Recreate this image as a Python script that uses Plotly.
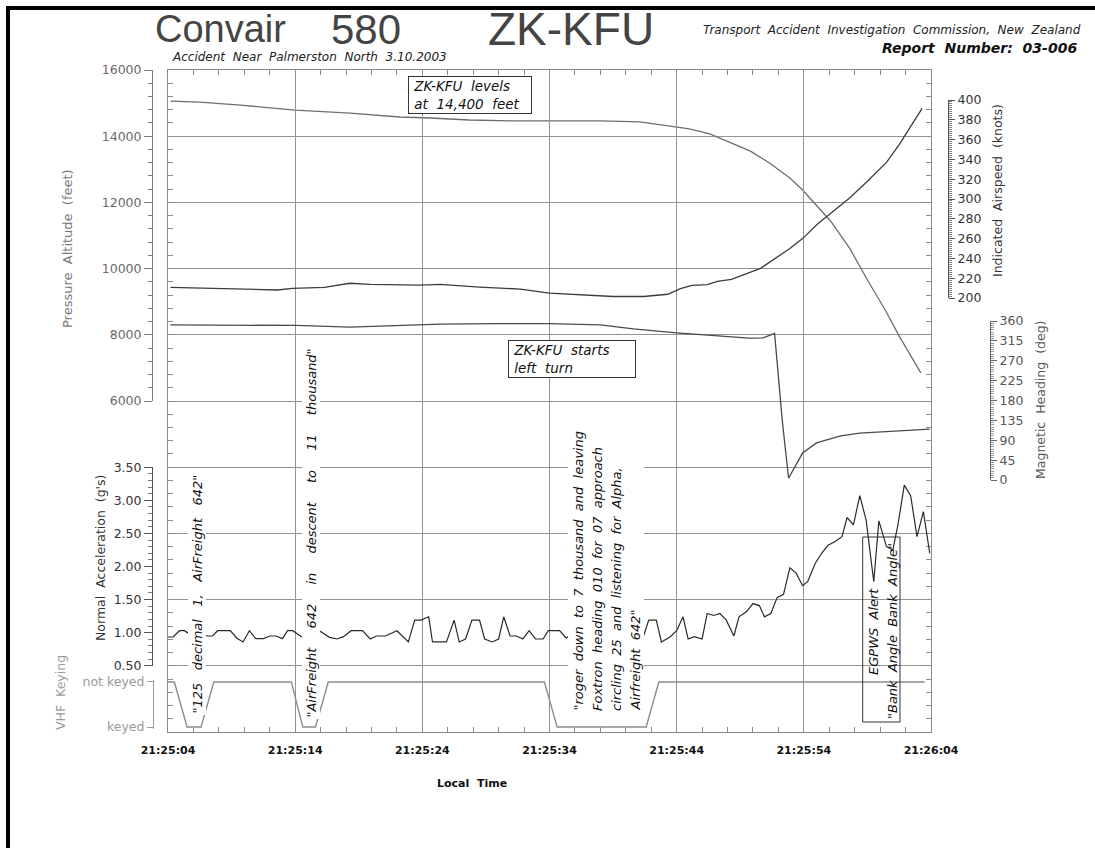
import plotly.graph_objects as go

W, H = 1095, 848

# ---------------- data (time = seconds after 21:25:04) ----------------
time_ticks = [0, 10, 20, 30, 40, 50, 60]
time_labels = ["21:25:04", "21:25:14", "21:25:24", "21:25:34", "21:25:44", "21:25:54", "21:26:04"]

alt_t = [0.2, 2.5, 5.7, 10.0, 14.3, 18.2, 20.6, 23.7, 26.9, 30.8, 34.0, 37.1, 39.5, 41.0,
         42.6, 44.2, 45.8, 47.3, 48.9, 49.9, 51.1, 52.1, 53.6, 55.0, 56.4, 57.5, 59.2]
alt_ft = [15060, 15030, 14940, 14790, 14700, 14580, 14550, 14490, 14460, 14460, 14460, 14430,
          14310, 14220, 14070, 13820, 13550, 13190, 12740, 12375, 11860, 11440, 10620, 9656,
          8750, 7960, 6850]

ias_t = [0.2, 4.9, 7.0, 8.6, 9.8, 12.3, 14.3, 15.9, 19.8, 21.4, 24.5, 27.7, 30.0, 32.4, 34.0,
         35.0, 37.4, 39.3, 40.3, 41.2, 42.4, 43.2, 44.3, 46.6, 48.9, 49.9, 51.1, 53.6, 55.0,
         56.5, 57.5, 59.3]
ias_kt = [210.8, 209.1, 208.1, 208.1, 209.8, 210.8, 214.9, 213.8, 213.1, 213.8, 211.0, 209.0,
          205.0, 203.0, 202.0, 201.5, 201.5, 203.8, 209.5, 212.8, 213.5, 216.8, 218.8, 230.0,
          250.0, 260.0, 275.0, 301.0, 318.0, 337.0, 355.0, 391.6]

hdg_t = [0.2, 10.1, 14.3, 19.8, 21.4, 26.0, 30.0, 34.0, 36.6, 40.0, 42.6, 45.7, 46.8, 47.7,
         48.3, 48.8, 49.9, 51.0, 51.8, 52.9, 54.4, 56.0, 57.5, 59.9]
hdg_deg = [351, 350, 346, 351, 353, 354, 354, 351, 342, 333, 328, 321, 322, 332, 136, 4,
           61, 84, 91, 100, 106, 109, 111, 115]

acc_t = [0.0, 0.4, 0.9, 1.3, 1.9, 2.5, 3.1, 3.5, 3.9, 4.9, 5.4, 5.9, 6.4, 6.9, 7.5, 8.0, 8.5,
         9.0, 9.4, 9.8, 10.5, 11.0, 11.5, 12.0, 12.7, 13.3, 13.8, 14.4, 15.3, 15.9, 16.4, 17.1,
         18.0, 18.9, 19.4, 19.9, 20.5, 20.8, 21.9, 22.5, 22.9, 23.4, 23.9, 24.5, 24.9, 25.5,
         26.0, 26.4, 26.9, 27.4, 27.9, 28.4, 28.9, 29.5, 29.9, 30.8, 31.3, 32.0, 33.0, 34.0,
         35.0, 36.0, 37.0, 37.4, 37.8, 38.4, 38.8, 39.5, 40.0, 40.5, 40.9, 41.4, 42.0, 42.4,
         42.9, 43.4, 43.9, 44.5, 44.9, 45.5, 46.0, 46.5, 46.9, 47.4, 47.9, 48.4, 48.9, 49.4,
         49.9, 50.3, 50.9, 51.4, 51.9, 52.4, 53.0, 53.4, 53.9, 54.4, 54.9, 55.5, 55.9, 56.5,
         57.0, 57.4, 57.9, 58.4, 58.9, 59.4, 59.9]
acc_g = [0.935, 0.935, 1.03, 1.03, 0.95, 1.0, 0.95, 0.95, 1.03, 1.03, 0.92, 0.86, 1.03, 0.91,
         0.91, 0.95, 0.95, 0.91, 1.03, 1.03, 0.94, 0.9, 0.95, 1.02, 0.93, 0.905, 0.94, 1.03,
         1.03, 0.905, 0.95, 0.95, 1.03, 0.86, 1.19, 1.19, 1.24, 0.86, 0.86, 1.19, 0.86, 0.905,
         1.19, 1.19, 0.905, 0.86, 0.905, 1.24, 0.95, 0.95, 0.905, 1.03, 0.905, 0.905, 1.03,
         1.03, 0.92, 1.0, 0.95, 1.05, 0.95, 1.0, 0.95, 0.95, 1.19, 1.19, 0.86, 0.94, 1.03, 1.24,
         0.905, 0.94, 0.905, 1.29, 1.26, 1.29, 1.19, 0.95, 1.24, 1.32, 1.44, 1.41, 1.24, 1.29,
         1.53, 1.58, 1.98, 1.90, 1.71, 1.77, 2.05, 2.20, 2.32, 2.37, 2.45, 2.74, 2.63, 3.07,
         2.70, 1.77, 2.69, 2.30, 2.25, 2.63, 3.23, 3.07, 2.45, 2.83, 2.20]

vhf_t = [0.0, 0.5, 1.5, 2.6, 3.6, 9.7, 10.6, 11.6, 12.6, 29.6, 30.6, 37.6, 38.6, 59.5]
vhf_v = [1, 1, 0, 0, 1, 1, 0, 0, 1, 1, 0, 0, 1, 1]
vhf_labels = ["keyed", "not keyed"]

# ---------------- layout helpers (pixels -> paper) ----------------
def px(x):
    return x / W

def py(y):
    return 1 - y / H

FONT = "DejaVu Sans, Verdana, sans-serif"
TFONT = "Liberation Sans, Arial, sans-serif"
GRID = "#939393"
FRAME = "#8a8a8a"

X0, X1 = 168, 931
Y_TOP, Y_BOT = 70, 732

fig = go.Figure()
# altitude: drawn on the full-frame altitude scale; invisible copy keeps the labelled axis alive
fig.add_trace(go.Scatter(x=alt_t, y=alt_ft, xaxis="x", yaxis="y", mode="lines",
                         line=dict(color="#6e6e6e", width=1.3), hoverinfo="skip"))
fig.add_trace(go.Scatter(x=alt_t, y=alt_ft, xaxis="x", yaxis="y2", mode="lines", opacity=0,
                         line=dict(color="#6e6e6e", width=0.1), hoverinfo="skip"))
fig.add_trace(go.Scatter(x=ias_t, y=ias_kt, xaxis="x", yaxis="y4", mode="lines",
                         line=dict(color="#3c3c3c", width=1.3), hoverinfo="skip"))
fig.add_trace(go.Scatter(x=hdg_t, y=hdg_deg, xaxis="x", yaxis="y5", mode="lines",
                         line=dict(color="#4a4a4a", width=1.3), hoverinfo="skip"))
fig.add_trace(go.Scatter(x=acc_t, y=acc_g, xaxis="x", yaxis="y3", mode="lines",
                         line=dict(color="#2a2a2a", width=1.2), hoverinfo="skip"))
fig.add_trace(go.Scatter(x=vhf_t, y=vhf_v, xaxis="x", yaxis="y6", mode="lines",
                         line=dict(color="#8c8c8c", width=1.4), hoverinfo="skip"))

common_free = dict(anchor="free", showgrid=False, zeroline=False, showline=True, linewidth=1,
                   automargin=False)

fig.update_layout(
    template="none",
    width=W, height=H,
    margin=dict(l=0, r=0, t=0, b=0, pad=0),
    paper_bgcolor="white",
    plot_bgcolor="rgba(0,0,0,0)",
    showlegend=False,
    xaxis=dict(
        domain=[px(X0), px(X1)], range=[0, 60], anchor="y", automargin=False,
        tickmode="array", tickvals=time_ticks, ticktext=time_labels,
        ticks="inside", ticklen=5, tickcolor=FRAME,
        showgrid=True, gridcolor=GRID, gridwidth=1,
        minor=dict(dtick=2, tick0=0, ticks="inside", ticklen=5, tickcolor=FRAME, showgrid=False),
        showline=True, linecolor=FRAME, linewidth=1, mirror="ticks", zeroline=False,
        tickfont=dict(family=FONT, size=11, color="#111", weight="bold"), ticklabelstandoff=8,
    ),
    yaxis=dict(
        domain=[py(Y_BOT), py(Y_TOP)], range=[-4000, 16000], anchor="x", automargin=False,
        tick0=0, dtick=2000, showticklabels=False,
        ticks="inside", ticklen=5, tickcolor=FRAME,
        minor=dict(dtick=400, tick0=0, ticks="inside", ticklen=5, tickcolor=FRAME, showgrid=False),
        showgrid=True, gridcolor=GRID, gridwidth=1,
        showline=True, linecolor=FRAME, linewidth=1, mirror="ticks", zeroline=False,
    ),
    yaxis2=dict(
        domain=[py(401), py(Y_TOP)], range=[6000, 16000], position=px(152), side="left",
        dtick=2000, tick0=0, tickformat="d", ticks="outside", ticklen=8,
        tickcolor="#7a7a7a", linecolor="#7a7a7a",
        minor=dict(dtick=400, tick0=0, ticks="outside", ticklen=4, tickcolor="#7a7a7a"),
        tickfont=dict(family=FONT, size=12.5, color="#6a6a6a"), **common_free,
    ),
    yaxis3=dict(
        domain=[py(665.8), py(467.2)], range=[0.5, 3.5], position=px(152), side="left",
        dtick=0.5, tick0=0.5, tickformat=".2f", ticks="outside", ticklen=8,
        tickcolor="#555", linecolor="#555",
        minor=dict(dtick=0.1, tick0=0.5, ticks="outside", ticklen=4, tickcolor="#777"),
        tickfont=dict(family=FONT, size=12.5, color="#333"), **common_free,
    ),
    yaxis4=dict(
        domain=[py(298), py(100)], range=[200, 400], position=px(948), side="right",
        dtick=20, tick0=200, ticks="outside", ticklen=6, tickcolor="#555", linecolor="#555",
        minor=dict(dtick=2, tick0=200, ticks="outside", ticklen=3, tickcolor="#888"),
        tickfont=dict(family=FONT, size=12.5, color="#333"), **common_free,
    ),
    yaxis5=dict(
        domain=[py(480), py(321)], range=[0, 360], position=px(990), side="right",
        dtick=45, tick0=0, ticks="outside", ticklen=6, tickcolor="#666", linecolor="#666",
        minor=dict(dtick=5, tick0=0, ticks="outside", ticklen=3, tickcolor="#999"),
        tickfont=dict(family=FONT, size=12.5, color="#555"), **common_free,
    ),
    yaxis6=dict(
        domain=[py(729.3), py(679.7)], range=[-0.05, 1.05], position=px(153), side="left",
        tickmode="array", tickvals=[0, 1], ticktext=vhf_labels,
        ticks="outside", ticklen=6, tickcolor="#9a9a9a", linecolor="#9a9a9a",
        tickfont=dict(family=FONT, size=12.5, color="#9a9a9a"), **common_free,
    ),
)

ann = []

def text(x, y, s, size, color="#111", xanchor="left", yanchor="middle", angle=0, family=FONT, **kw):
    ann.append(dict(x=px(x), y=py(y), xref="paper", yref="paper", text=s, showarrow=False,
                    xanchor=xanchor, yanchor=yanchor, textangle=angle,
                    font=dict(family=family, size=size, color=color), **kw))

# titles
text(153, 29, "Convair", 38, "#444", family=TFONT)
text(329, 29, "580", 42, "#444", family=TFONT)
text(486, 29, "ZK-KFU", 46, "#444", family=TFONT)
text(170, 57, "<i>Accident  Near  Palmerston  North  3.10.2003</i>", 12, "#222")
text(1083, 30, "<i>Transport  Accident  Investigation  Commission,  New  Zealand</i>", 12, "#222",
     xanchor="right")
text(1079, 48, "<b><i>Report  Number:  03-006</i></b>", 14, "#111", xanchor="right")

# axis titles
text(67, 249, "Pressure  Altitude  (feet)", 13, "#7a7a7a", xanchor="center", angle=-90)
text(100, 558, "Normal  Acceleration  (g's)", 12.5, "#333", xanchor="center", angle=-90)
text(60, 693, "VHF  Keying", 12.5, "#9a9a9a", xanchor="center", angle=-90)
text(997, 191, "Indicated  Airspeed  (knots)", 12.5, "#333", xanchor="center", angle=-90)
text(1040, 400, "Magnetic  Heading  (deg)", 12.5, "#555", xanchor="center", angle=-90)
text(472, 783, "<b>Local  Time</b>", 11, "#111", xanchor="center")

# boxed notes
ann.append(dict(x=px(470), y=py(94.5), xref="paper", yref="paper", showarrow=False,
                xanchor="center", yanchor="middle",
                text="<i> ZK-KFU  levels<br> at  14,400  feet</i>", align="left",
                width=120, borderpad=1, bgcolor="white", bordercolor="#333",
                borderwidth=1, font=dict(family=FONT, size=13.5, color="#111")))
ann.append(dict(x=px(572), y=py(359), xref="paper", yref="paper", showarrow=False,
                xanchor="center", yanchor="middle",
                text="<i> ZK-KFU  starts<br> left  turn</i>", align="left",
                width=124, borderpad=1, bgcolor="white", bordercolor="#333",
                borderwidth=1, font=dict(family=FONT, size=13.5, color="#111")))

# rotated radio transcripts
def quote(x, ybot, s, size=13, bg="white"):
    ann.append(dict(x=px(x), y=py(ybot), xref="paper", yref="paper", showarrow=False,
                    text="<i>" + s + "</i>", textangle=-90, xanchor="center", yanchor="bottom",
                    bgcolor=bg, borderpad=1,
                    font=dict(family=FONT, size=size, color="#111")))

G = "    \u2009"
quote(197, 716, "\"125   decimal   1,   AirFreight   642\"")
quote(311, 720, G.join(["\"AirFreight", "642", "in", "descent", "to", "11", "thousand\""]))
quote(578, 713, "\"roger  down  to  7  thousand  and  leaving", bg="rgba(0,0,0,0)")
quote(597, 713, "Foxtron  heading  010  for  07  approach", bg="rgba(0,0,0,0)")
quote(616, 713, "circling  25  and  listening  for  Alpha,", bg="rgba(0,0,0,0)")
quote(635, 713, "Airfreight  642\"", bg="rgba(0,0,0,0)")

# EGPWS box text
text(873, 631, "<i>EGPWS  Alert</i>", 13, "#111", xanchor="center", angle=-90)
text(892, 631, "<i>\"Bank  Angle  Bank  Angle\"</i>", 13, "#111", xanchor="center", angle=-90)

fig.update_layout(annotations=ann)

shapes = [
    # white backing for the 4-line transcript block
    dict(type="rect", xref="paper", yref="paper", x0=px(568), x1=px(644), y0=py(716), y1=py(422),
         line=dict(width=0), fillcolor="white", layer="above"),
    dict(type="rect", xref="paper", yref="paper", x0=px(862.7), x1=px(900), y0=py(722), y1=py(537),
         line=dict(color="#333", width=1)),
    dict(type="line", xref="paper", yref="paper", x0=px(8), x1=px(8), y0=0, y1=py(6),
         line=dict(color="black", width=4)),
    dict(type="line", xref="paper", yref="paper", x0=px(6), x1=1, y0=py(8), y1=py(8),
         line=dict(color="black", width=4)),
]
fig.update_layout(shapes=shapes)

fig.write_html(
    "out.html",
    config={"displayModeBar": False},
    post_script="document.body.style.margin='0';document.body.style.padding='0';"
                "document.body.style.overflow='hidden';",
)
